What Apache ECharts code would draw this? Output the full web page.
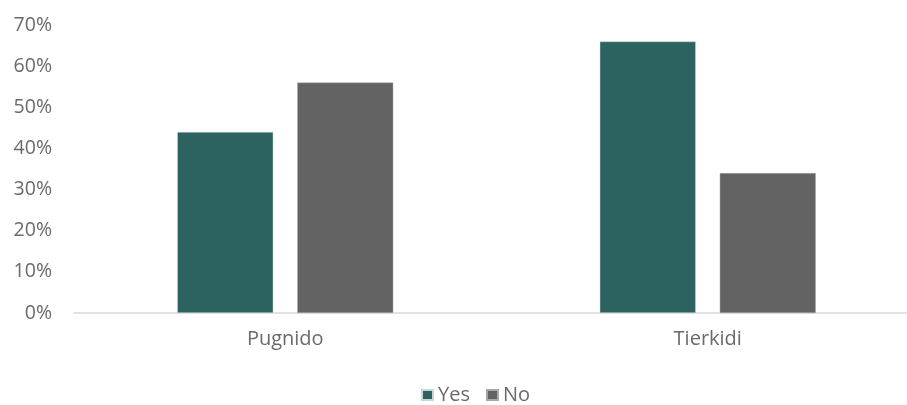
<!DOCTYPE html>
<html><head><meta charset="utf-8">
<script src="https://cdn.jsdelivr.net/npm/echarts@6/dist/echarts.min.js"></script>
<style>html,body{margin:0;padding:0;background:#fff;overflow:hidden}#c{width:919px;height:405px}</style>
</head><body><div id="c"></div>
<script>
const categories = ["Pugnido", "Tierkidi"];
const yesValues = [44, 66];
const noValues = [56, 34];
const yTicks = [0, 10, 20, 30, 40, 50, 60, 70];

const chart = echarts.init(document.getElementById('c'), null, {renderer: 'canvas'});
const font = "'Open Sans', sans-serif";
const txt = '#6a6a6a';
chart.setOption({
  animation: false,
  backgroundColor: '#fff',
  textStyle: {fontFamily: font},
  grid: {left: 74, right: 0, top: 25, bottom: 92, containLabel: false},
  legend: {
    data: ['Yes', 'No'], top: 379, left: 416,
    itemWidth: 11, itemHeight: 10, itemGap: 16, icon: 'rect',
    textStyle: {color: txt, fontSize: 20, fontFamily: font, lineHeight: 22}
  },
  xAxis: {
    type: 'category', data: categories,
    axisLine: {lineStyle: {color: '#d9d9d9', width: 1.5}},
    axisTick: {show: false},
    axisLabel: {color: txt, fontSize: 20, margin: 16, fontFamily: font}
  },
  yAxis: {
    type: 'value', min: yTicks[0], max: yTicks[yTicks.length-1], interval: 10,
    axisLine: {show: false}, axisTick: {show: false}, splitLine: {show: false},
    axisLabel: {color: txt, fontSize: 19.5, margin: 22, fontFamily: font, formatter: '{value}%', padding: [0,0,7,0]}
  },
  series: [
    {name: 'Yes', type: 'bar', data: yesValues, barWidth: 96, barGap: '25%',
     itemStyle: {color: '#2C6360', borderColor: '#c8d6d5', borderWidth: 0.5}},
    {name: 'No', type: 'bar', data: noValues, barWidth: 96,
     itemStyle: {color: '#636363', borderColor: '#a8a8a8', borderWidth: 0.5}}
  ]
});
</script></body></html>
